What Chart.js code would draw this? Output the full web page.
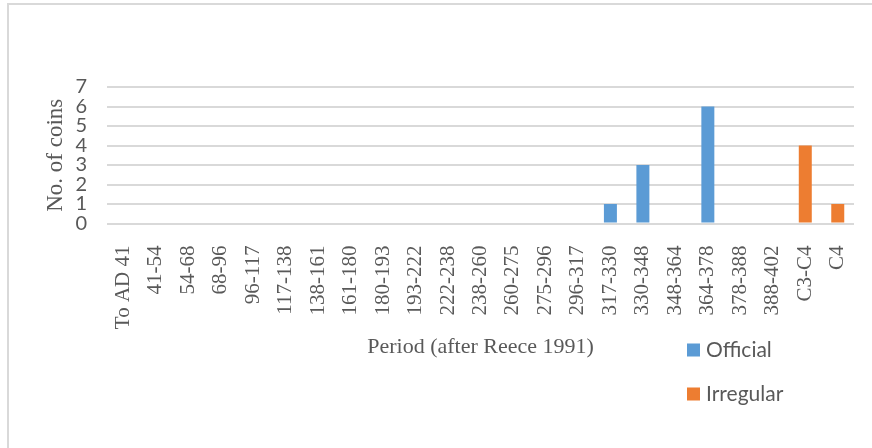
<!DOCTYPE html>
<html>
<head>
<meta charset="utf-8">
<script src="https://cdn.jsdelivr.net/npm/chart.js@4/dist/chart.umd.min.js"></script>
<style>
  html, body { margin: 0; padding: 0; background: #fff; }
  .wrap { position: relative; width: 872px; height: 448px; overflow: hidden; }
  .frame { position: absolute; left: 7px; top: 3px; width: 900px; height: 500px; border: 2px solid #d9d9d9; box-sizing: border-box; }
  #chart { position: absolute; left: 0; top: 0; }
</style>
</head>
<body>
<div class="wrap">
  <div class="frame"></div>
  <canvas id="chart" width="872" height="448"></canvas>
</div>
<script>
const periods = ['To AD 41', '41-54', '54-68', '68-96', '96-117', '117-138', '138-161', '161-180',
  '180-193', '193-222', '222-238', '238-260', '260-275', '275-296', '296-317', '317-330',
  '330-348', '348-364', '364-378', '378-388', '388-402', 'C3-C4', 'C4'];
const official  = [0, 0, 0, 0, 0, 0, 0, 0, 0, 0, 0, 0, 0, 0, 0, 1, 3, 0, 6, 0, 0, 0, 0];
const irregular = [0, 0, 0, 0, 0, 0, 0, 0, 0, 0, 0, 0, 0, 0, 0, 0, 0, 0, 0, 0, 0, 4, 1];
const yTicks = [0, 1, 2, 3, 4, 5, 6, 7];

const grey = '#595959';
const serif = '"Liberation Serif", "Times New Roman", serif';
const sans = 'Lato, "Open Sans", sans-serif';

// legend stacked vertically in the lower right corner
const sideLegend = {
  id: 'sideLegend',
  afterDraw(chart) {
    const ctx = chart.ctx;
    const rows = [350, 394];
    ctx.save();
    ctx.font = '21px ' + sans;
    ctx.textBaseline = 'middle';
    ctx.textAlign = 'left';
    chart.data.datasets.forEach((ds, i) => {
      ctx.fillStyle = ds.backgroundColor;
      ctx.fillRect(687, rows[i] - 6.5, 13, 13);
      ctx.fillStyle = grey;
      ctx.fillText(ds.label, 706, rows[i]);
    });
    ctx.restore();
  }
};

new Chart(document.getElementById('chart'), {
  type: 'bar',
  data: {
    labels: periods,
    datasets: [
      { label: 'Official', data: official, backgroundColor: '#5b9bd5' },
      { label: 'Irregular', data: irregular, backgroundColor: '#ed7d31' }
    ]
  },
  options: {
    responsive: false,
    animation: false,
    layout: { padding: { left: 30, right: 18, top: 87, bottom: 88 } },
    datasets: { bar: { categoryPercentage: 0.8, barPercentage: 0.5 } },
    plugins: { legend: { display: false }, tooltip: { enabled: false } },
    scales: {
      x: {
        stacked: true,
        // rotated labels sit inside the categories, no side padding needed
        afterFit(scale) { scale.paddingLeft = 0; scale.paddingRight = 0; },
        grid: { display: false },
        border: { display: false },
        ticks: {
          autoSkip: false, minRotation: 90, maxRotation: 90, padding: 14,
          color: grey, font: { family: serif, size: 21 }
        },
        title: {
          display: true, text: 'Period (after Reece 1991)', color: grey,
          font: { family: serif, size: 22 }, padding: { top: 2, bottom: 0 }
        }
      },
      y: {
        stacked: true,
        min: yTicks[0],
        max: yTicks[yTicks.length - 1],
        afterFit(scale) { scale.width = 77; },
        grid: { color: '#d9d9d9', lineWidth: 2, drawTicks: false },
        border: { display: false },
        ticks: {
          stepSize: 1, autoSkip: false, padding: 20, color: grey,
          font: { family: sans, size: 20, lineHeight: 1 }
        },
        title: {
          display: true, text: 'No. of coins', color: grey,
          font: { family: serif, size: 23 }, padding: { top: 12, bottom: 7 }
        }
      }
    }
  },
  plugins: [sideLegend]
});
</script>
</body>
</html>
